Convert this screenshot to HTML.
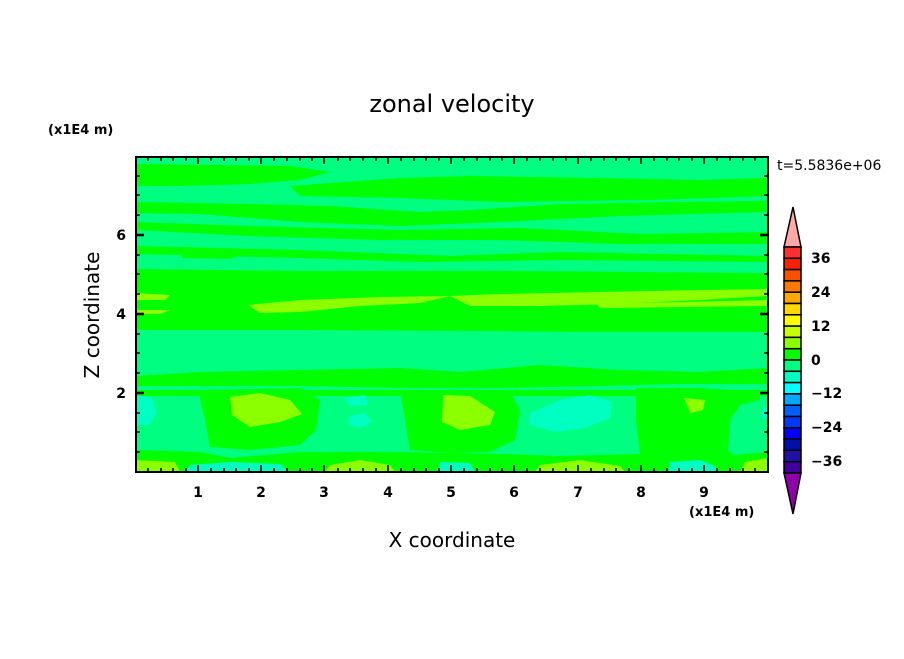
<!DOCTYPE html>
<html><head><style>
body{margin:0;background:#fff;}
svg text{font-family:"DejaVu Sans","Liberation Sans",sans-serif;fill:#000;}
</style></head><body>
<svg width="904" height="654" viewBox="0 0 904 654" xmlns="http://www.w3.org/2000/svg">
<defs><clipPath id="c"><rect x="136" y="157" width="632" height="315"/></clipPath></defs>
<g clip-path="url(#c)">
<rect x="136" y="157" width="632" height="315" fill="#00ff80"/>
<g fill="#00ff00">
<path d="M136,164 L290,166 L330,172 L300,180 L250,184 L180,186 L136,186Z"/>
<path d="M290,186 L400,178 L470,176 L600,178 L700,180 L768,178 L768,196 L650,200 L500,202 L400,198 L300,196Z"/>
<path d="M136,202 L250,204 L330,206 L420,212 L470,210 L560,204 L680,202 L768,201 L768,212 L620,216 L500,222 L400,226 L300,222 L200,214 L136,213Z"/>
<path d="M136,222 L250,226 L400,230 L520,228 L640,234 L768,232 L768,244 L620,244 L500,240 L380,240 L250,236 L136,230Z"/>
<path d="M136,246 L300,250 L450,256 L560,252 L768,256 L768,262 L560,260 L420,262 L300,258 L136,254Z"/>
<path d="M182,254 L240,255 L230,259 L182,258Z"/>
<path d="M136,269 L300,271 L500,271 L768,273 L768,332 L600,332 L480,331 L300,330 L136,330Z"/>
<path d="M136,376 L200,372 L300,370 L400,368 L460,372 L540,365 L620,370 L700,372 L768,368 L768,384 L680,384 L600,386 L500,388 L400,388 L300,386 L200,386 L136,386Z"/>
<path d="M136,390 L768,390 L768,396 L136,396Z"/>
<path d="M198,390 L300,388 L320,400 L316,430 L300,445 L250,450 L210,447 L205,420 Z"/>
<path d="M400,390 L470,392 L510,392 L520,410 L515,440 L490,452 L450,453 L410,450 L405,420Z"/>
<path d="M636,388 L700,388 L760,392 L760,400 L740,405 L730,420 L728,450 L740,462 L700,460 L640,455 L636,420Z"/>
<path d="M136,450 L200,452 L230,458 L300,452 L400,452 L500,454 L560,456 L640,454 L700,458 L768,452 L768,472 L136,472Z"/>
</g>
<g fill="#8cff00">
<path d="M136,293 L170,295 L165,300 L136,300Z"/>
<path d="M136,310 L170,310 L160,314 L136,314Z"/>
<path d="M248,305 L300,300 L380,297 L450,296 L420,303 L360,306 L300,312 L260,313Z"/>
<path d="M450,296 L500,294 L600,292 L700,290 L768,289 L768,296 L700,300 L620,304 L540,306 L470,306Z"/>
<path d="M596,304 L768,300 L768,306 L600,308Z"/>
<path d="M230,397 L260,393 L290,400 L302,414 L280,422 L250,427 L232,415Z"/>
<path d="M443,395 L470,396 L495,412 L490,425 L460,430 L442,422Z"/>
<path d="M684,398 L705,400 L703,410 L690,413Z"/>
<path d="M136,460 L175,462 L180,472 L136,472Z"/>
<path d="M330,465 L360,460 L390,465 L395,472 L325,472Z"/>
<path d="M540,465 L580,460 L620,466 L625,472 L535,472Z"/>
<path d="M745,462 L768,458 L768,472 L740,472Z"/>
</g>
<g fill="#00ffc0">
<path d="M136,395 L152,398 L157,412 L150,425 L136,425Z"/>
<path d="M345,398 L365,395 L368,405 L350,406Z"/>
<path d="M350,416 L365,413 L372,422 L360,428 L348,424Z"/>
<path d="M530,413 L560,400 L590,395 L612,402 L610,418 L585,428 L555,432 L530,425Z"/>
<path d="M762,410 L768,405 L768,420 L762,418Z"/>
<path d="M190,465 L230,462 L280,464 L290,472 L185,472Z"/>
<path d="M440,462 L470,463 L475,472 L438,472Z"/>
<path d="M670,462 L700,460 L715,466 L718,472 L668,472Z"/>
</g>
</g>
<rect x="136" y="157" width="632" height="315" fill="none" stroke="#000" stroke-width="2"/>
<g stroke="#000" stroke-width="1.5">
<path d="M198,472v-7M261,472v-7M324,472v-7M388,472v-7M451,472v-7M514,472v-7M578,472v-7M641,472v-7M704,472v-7M198,157v7M261,157v7M324,157v7M388,157v7M451,157v7M514,157v7M578,157v7M641,157v7M704,157v7"/>
<path d="M136,393h8M136,314h8M136,235h8M768,393h-8M768,314h-8M768,235h-8" stroke-width="2.5"/>
<path d="M148,472v-4M161,472v-4M173,472v-4M186,472v-4M211,472v-4M224,472v-4M236,472v-4M249,472v-4M274,472v-4M287,472v-4M300,472v-4M312,472v-4M338,472v-4M350,472v-4M363,472v-4M376,472v-4M401,472v-4M414,472v-4M426,472v-4M439,472v-4M464,472v-4M477,472v-4M490,472v-4M502,472v-4M527,472v-4M540,472v-4M553,472v-4M566,472v-4M591,472v-4M604,472v-4M616,472v-4M629,472v-4M654,472v-4M667,472v-4M679,472v-4M692,472v-4M717,472v-4M730,472v-4M743,472v-4M755,472v-4"/>
<path d="M148,157v4M161,157v4M173,157v4M186,157v4M211,157v4M224,157v4M236,157v4M249,157v4M274,157v4M287,157v4M300,157v4M312,157v4M338,157v4M350,157v4M363,157v4M376,157v4M401,157v4M414,157v4M426,157v4M439,157v4M464,157v4M477,157v4M490,157v4M502,157v4M527,157v4M540,157v4M553,157v4M566,157v4M591,157v4M604,157v4M616,157v4M629,157v4M654,157v4M667,157v4M679,157v4M692,157v4M717,157v4M730,157v4M743,157v4M755,157v4"/>
<path d="M136,452h4M136,432h4M136,413h4M136,373h4M136,353h4M136,334h4M136,294h4M136,274h4M136,255h4M136,215h4M136,195h4M136,176h4M768,452h-4M768,432h-4M768,413h-4M768,373h-4M768,353h-4M768,334h-4M768,294h-4M768,274h-4M768,255h-4M768,215h-4M768,195h-4M768,176h-4"/>
</g>
<g font-size="14" font-weight="bold" text-anchor="middle">
<text x="198" y="497">1</text><text x="261" y="497">2</text><text x="324" y="497">3</text><text x="388" y="497">4</text><text x="451" y="497">5</text><text x="514" y="497">6</text><text x="578" y="497">7</text><text x="641" y="497">8</text><text x="704" y="497">9</text>
</g>
<g font-size="14" font-weight="bold" text-anchor="end">
<text x="126" y="398">2</text><text x="126" y="319">4</text><text x="126" y="240">6</text>
</g>
<text x="452" y="112" font-size="24" text-anchor="middle">zonal velocity</text>
<text x="452" y="547" font-size="20" text-anchor="middle">X coordinate</text>
<text transform="translate(99,315) rotate(-90)" font-size="20" text-anchor="middle">Z coordinate</text>
<text x="48" y="134" font-size="13" font-weight="bold">(x1E4 m)</text>
<text x="689" y="516" font-size="13" font-weight="bold">(x1E4 m)</text>
<text x="777" y="170" font-size="14">t=5.5836e+06</text>
<g stroke="#000" stroke-width="1.5">
<path d="M793,207 L801,247 L784,247Z" fill="#ffa8a8"/>
<path d="M784,473 L801,473 L793,514Z" fill="#9000a8"/>
<rect x="784" y="247.0" width="17" height="11.3" fill="#ff3030"/>
<rect x="784" y="258.3" width="17" height="11.3" fill="#ff2000"/>
<rect x="784" y="269.6" width="17" height="11.3" fill="#ff5000"/>
<rect x="784" y="280.9" width="17" height="11.3" fill="#ff7800"/>
<rect x="784" y="292.2" width="17" height="11.3" fill="#ffa800"/>
<rect x="784" y="303.5" width="17" height="11.3" fill="#ffd800"/>
<rect x="784" y="314.8" width="17" height="11.3" fill="#ffff00"/>
<rect x="784" y="326.1" width="17" height="11.3" fill="#c8ff00"/>
<rect x="784" y="337.4" width="17" height="11.3" fill="#8cff00"/>
<rect x="784" y="348.7" width="17" height="11.3" fill="#00ff00"/>
<rect x="784" y="360.0" width="17" height="11.3" fill="#00ff80"/>
<rect x="784" y="371.3" width="17" height="11.3" fill="#00ffc0"/>
<rect x="784" y="382.6" width="17" height="11.3" fill="#00ffff"/>
<rect x="784" y="393.9" width="17" height="11.3" fill="#00a8ff"/>
<rect x="784" y="405.2" width="17" height="11.3" fill="#0060ff"/>
<rect x="784" y="416.5" width="17" height="11.3" fill="#0038ff"/>
<rect x="784" y="427.8" width="17" height="11.3" fill="#0000ff"/>
<rect x="784" y="439.1" width="17" height="11.3" fill="#0010a8"/>
<rect x="784" y="450.4" width="17" height="11.3" fill="#2010a8"/>
<rect x="784" y="461.7" width="17" height="11.3" fill="#4000a0"/>
</g>
<g font-size="14" font-weight="bold">
<text x="811" y="263">36</text><text x="811" y="297">24</text><text x="811" y="331">12</text><text x="811" y="365">0</text><text x="811" y="398">−12</text><text x="811" y="432">−24</text><text x="811" y="466">−36</text>
</g>
</svg>
</body></html>
